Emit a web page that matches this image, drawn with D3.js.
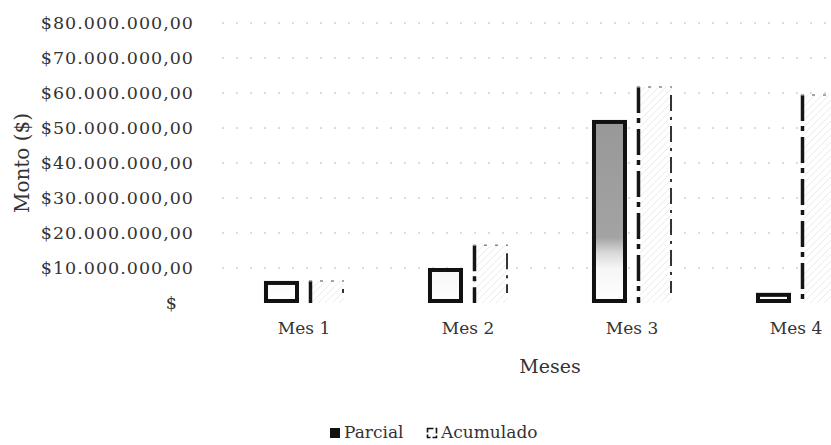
<!DOCTYPE html>
<html>
<head>
<meta charset="utf-8">
<script src="https://cdn.jsdelivr.net/npm/d3@7/dist/d3.min.js"></script>
<style>
  html, body { margin: 0; padding: 0; background: #fff; }
  svg { display: block; }
  text { font-family: "DejaVu Serif", "Liberation Serif", serif; fill: #333; }
</style>
</head>
<body>
<svg id="chart" width="831" height="445"></svg>
<script>
// ---- data ----
const categories = ["Mes 1", "Mes 2", "Mes 3", "Mes 4"];
const seriesNames = ["Parcial", "Acumulado"];
const parcial   = [6300000, 10000000, 52300000, 2900000];
const acumulado = [6300000, 16500000, 61700000, 59400000];
const yTickValues = [0, 10000000, 20000000, 30000000, 40000000, 50000000, 60000000, 70000000, 80000000];
const xTitle = "Meses";
const yTitle = "Monto ($)";

const rows = categories.map((c, i) => ({ cat: c, Parcial: parcial[i], Acumulado: acumulado[i] }));

const svg = d3.select("#chart");
const W = 831, H = 445;

const locale = d3.formatLocale({ decimal: ",", thousands: ".", grouping: [3], currency: ["$", ""] });
const money = locale.format("$,.2f");

const y = d3.scaleLinear().domain([0, 80000000]).range([303, 23]);
const x0 = d3.scaleBand().domain(categories).range([222, 878]).paddingInner(0.512).paddingOuter(0.256);
const x1 = d3.scaleBand().domain(seriesNames).range([0, x0.bandwidth()]).paddingInner(0.222).paddingOuter(0);

const defs = svg.append("defs");
const grad = defs.append("linearGradient").attr("id", "parcialFill")
  .attr("gradientUnits", "userSpaceOnUse")
  .attr("x1", 0).attr("x2", 0).attr("y1", y(55000000)).attr("y2", y(0));
[[0, "#979797"], [0.66, "#a3a3a3"], [0.74, "#d9d9d9"], [0.82, "#f6f6f6"], [1, "#ffffff"]]
  .forEach(([o, c]) => grad.append("stop").attr("offset", o).attr("stop-color", c));

const pat = defs.append("pattern").attr("id", "acuPattern")
  .attr("patternUnits", "userSpaceOnUse").attr("width", 7).attr("height", 7);
pat.append("rect").attr("width", 7).attr("height", 7).attr("fill", "#fff");
pat.append("path").attr("d", "M0,7 L7,0").attr("stroke", "#e2e2e2").attr("stroke-width", 0.7);

// ---- gridlines ----
svg.append("g").selectAll("line")
  .data(yTickValues.filter(v => v > 0))
  .join("line")
  .attr("x1", 222).attr("x2", W)
  .attr("y1", d => y(d)).attr("y2", d => y(d))
  .attr("stroke", "#b8b8b8").attr("stroke-width", 1)
  .attr("stroke-dasharray", "2,12");

// ---- y axis (labels only) ----
const yAxis = svg.append("g").attr("transform", "translate(194,0)")
  .call(d3.axisLeft(y).tickValues(yTickValues).tickSize(0).tickPadding(0)
    .tickFormat(d => d === 0 ? "$" : money(d)));
yAxis.select(".domain").remove();
yAxis.selectAll("text").attr("font-size", 17.5).attr("font-family", "DejaVu Serif")
  .attr("fill", "#3a3a3a").attr("letter-spacing", "1px")
  .attr("dx", d => d === 0 ? -16 : 0);

// ---- x axis (labels only) ----
const xAxis = svg.append("g").attr("transform", "translate(0,321)")
  .call(d3.axisBottom(x0).tickSize(0).tickPadding(0));
xAxis.select(".domain").remove();
xAxis.selectAll("text").attr("font-size", 17).attr("font-family", "DejaVu Serif")
  .attr("fill", "#3a3a3a").attr("dy", "0.75em");

// ---- bars ----
const groups = svg.append("g").selectAll("g").data(rows).join("g")
  .attr("transform", d => `translate(${x0(d.cat)},0)`);

// Parcial
groups.append("rect")
  .attr("x", x1("Parcial") + 2)
  .attr("y", d => y(d.Parcial) + 2)
  .attr("width", x1.bandwidth() - 4)
  .attr("height", d => Math.max(0, y(0) - y(d.Parcial) - 4))
  .attr("fill", "url(#parcialFill)")
  .attr("stroke", "#111").attr("stroke-width", 4);

// Acumulado
groups.append("rect")
  .attr("x", x1("Acumulado"))
  .attr("y", d => y(d.Acumulado))
  .attr("width", x1.bandwidth())
  .attr("height", d => y(0) - y(d.Acumulado))
  .attr("fill", "url(#acuPattern)");
groups.append("line")
  .attr("x1", x1("Acumulado") + 1.5).attr("x2", x1("Acumulado") + 1.5)
  .attr("y1", d => y(d.Acumulado)).attr("y2", y(0))
  .attr("stroke", "#151515").attr("stroke-width", 3.5)
  .attr("stroke-dasharray", "26,5,5,6");
groups.append("line")
  .attr("x1", x1("Acumulado") + x1.bandwidth() - 1).attr("x2", x1("Acumulado") + x1.bandwidth() - 1)
  .attr("y1", d => y(d.Acumulado) + 8).attr("y2", y(0) - 10)
  .attr("stroke", "#333").attr("stroke-width", 2)
  .attr("stroke-dasharray", "16,6,3,6");
groups.append("line")
  .attr("x1", x1("Acumulado")).attr("x2", x1("Acumulado") + x1.bandwidth())
  .attr("y1", d => y(d.Acumulado)).attr("y2", d => y(d.Acumulado))
  .attr("stroke", "#888").attr("stroke-width", 1.5)
  .attr("stroke-dasharray", "3,8");

// ---- axis titles ----
svg.append("text")
  .attr("x", (x0.range()[0] + x0.range()[1]) / 2).attr("y", 368)
  .attr("text-anchor", "middle").attr("dominant-baseline", "middle")
  .attr("font-size", 19).attr("fill", "#333")
  .text(xTitle);
svg.append("text")
  .attr("transform", `translate(23,${(y(0) + y(80000000)) / 2}) rotate(-90)`)
  .attr("text-anchor", "middle").attr("dominant-baseline", "middle")
  .attr("font-size", 20).attr("fill", "#333")
  .text(yTitle);

// ---- legend ----
const legend = svg.append("g");
const legendX = [330, 427];
seriesNames.forEach((s, i) => {
  const g = legend.append("g").attr("transform", `translate(${legendX[i]},433)`);
  if (i === 0) {
    g.append("rect").attr("x", 0).attr("y", -5).attr("width", 10).attr("height", 10).attr("fill", "#111");
  } else {
    g.append("rect").attr("x", 0.5).attr("y", -4.5).attr("width", 9).attr("height", 9)
      .attr("fill", "url(#acuPattern)").attr("stroke", "#111").attr("stroke-width", 1.6)
      .attr("stroke-dasharray", "6,2");
  }
  g.append("text").attr("x", 14).attr("y", 0).attr("dominant-baseline", "middle")
    .attr("font-size", 17).attr("fill", "#333").text(s);
});
</script>
</body>
</html>
